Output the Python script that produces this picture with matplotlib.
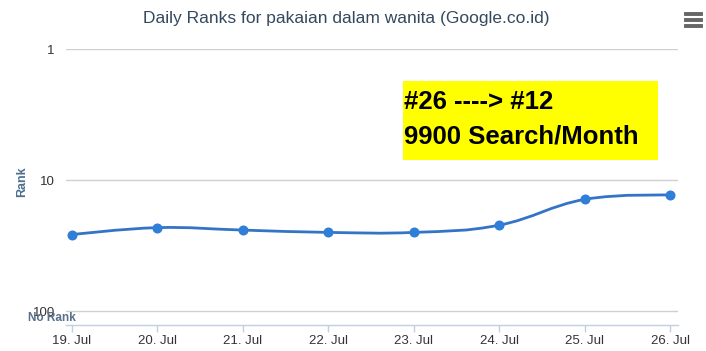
import numpy as np
import matplotlib
matplotlib.use("Agg")
import matplotlib.pyplot as plt
from matplotlib.path import Path
from matplotlib.patches import PathPatch, Rectangle
from matplotlib.lines import Line2D

plt.rcParams["font.family"] = ["Liberation Sans Narrow", "Liberation Sans", "DejaVu Sans"]

# ── data ──────────────────────────────────────────────
days = ["19. Jul", "20. Jul", "21. Jul", "22. Jul", "23. Jul", "24. Jul", "25. Jul", "26. Jul"]
ranks = [26, 23, 24, 25, 25, 22, 14, 13]
y_ticks = [1, 10, 100]
title = "Daily Ranks for pakaian dalam wanita (Google.co.id)"
note_lines = ["#26 ----> #12", "9900 Search/Month"]

LINE = "#3474c6"
MARK = "#2f7ed8"

fig = plt.figure(figsize=(7.06, 3.51), dpi=100)
ax = fig.add_axes([66 / 706, 1 - 325 / 351, 612 / 706, 276 / 351])

x = np.arange(len(days), dtype=float)
ly = np.log10(ranks)


def spline_path(xs, ys, smoothing=1.5):
    # Highcharts-style spline, computed in (x, log10 y) space
    n = len(xs)
    lc = [(xs[i], ys[i]) for i in range(n)]
    rc = [(xs[i], ys[i]) for i in range(n)]
    denom = smoothing + 1
    for i in range(1, n - 1):
        px, py = xs[i], ys[i]
        lx = (smoothing * px + xs[i - 1]) / denom
        lyy = (smoothing * py + ys[i - 1]) / denom
        rx = (smoothing * px + xs[i + 1]) / denom
        ryy = (smoothing * py + ys[i + 1]) / denom
        corr = (ryy - lyy) * (rx - px) / (rx - lx) + py - ryy
        lyy += corr
        ryy += corr
        lc[i] = (lx, lyy)
        rc[i] = (rx, ryy)
    verts = [(xs[0], ys[0])]
    codes = [Path.MOVETO]
    for i in range(1, n):
        verts += [rc[i - 1], lc[i], (xs[i], ys[i])]
        codes += [Path.CURVE4] * 3
    verts = [(vx, 10 ** vy) for vx, vy in verts]
    return Path(verts, codes)


ax.set_yscale("log")
ax.set_xlim(-0.07, 7.09)
ax.set_ylim(127, 1)

ax.add_patch(PathPatch(spline_path(x, ly), facecolor="none", edgecolor=LINE,
                       linewidth=2, zorder=3))
ax.plot(x, ranks, linestyle="none", marker="o", markersize=6.2,
        color=MARK, zorder=4)

# grid
for t in y_ticks:
    ax.axhline(t, color="#d0d0d0", linewidth=1, zorder=1)
ax.set_yticks(y_ticks)
ax.set_yticklabels([str(t) for t in y_ticks])
ax.yaxis.set_minor_locator(matplotlib.ticker.NullLocator())
ax.tick_params(axis="y", length=0, pad=8, labelsize=9.5, labelcolor="#333333")

ax.set_xticks(x)
ax.set_xticklabels(days)
ax.tick_params(axis="x", length=5, width=1, color="#c0d0e0", pad=2,
               labelsize=9.5, labelcolor="#333333")

for s in ["top", "left", "right"]:
    ax.spines[s].set_visible(False)
ax.spines["bottom"].set_color("#c0d0e0")
ax.spines["bottom"].set_linewidth(1)

fig.text(22 / 706, 1 - 182 / 351, "Rank", rotation=90, ha="center", va="center",
         fontsize=9, fontweight="bold", color="#4d6e8f")

fig.text(346 / 706, 1 - 18 / 351, title, ha="center", va="center",
         fontsize=12.5, color="#34495e")

fig.text(52 / 706, 1 - 318 / 351, "No Rank", ha="center", va="center",
         fontsize=8.5, fontweight="bold", color="#5a7089")

# menu icon
for yy in (14, 20, 26):
    fig.add_artist(Line2D([686 / 706, 701 / 706], [1 - yy / 351] * 2,
                          color="#666666", linewidth=2.8))

# yellow note box
fig.add_artist(Rectangle((403 / 706, 1 - 160 / 351), 255 / 706, 79 / 351,
                         facecolor="#ffff00", edgecolor="none", zorder=5))
fig.text(404 / 706, 1 - 102 / 351, note_lines[0], ha="left", va="center",
         fontsize=18.5, fontweight="bold", color="black", zorder=6,
         family=["Liberation Sans", "DejaVu Sans"])
fig.text(404 / 706, 1 - 136 / 351, note_lines[1], ha="left", va="center",
         fontsize=18.5, fontweight="bold", color="black", zorder=6,
         family=["Liberation Sans", "DejaVu Sans"])

fig.savefig("out.png", dpi=100)
